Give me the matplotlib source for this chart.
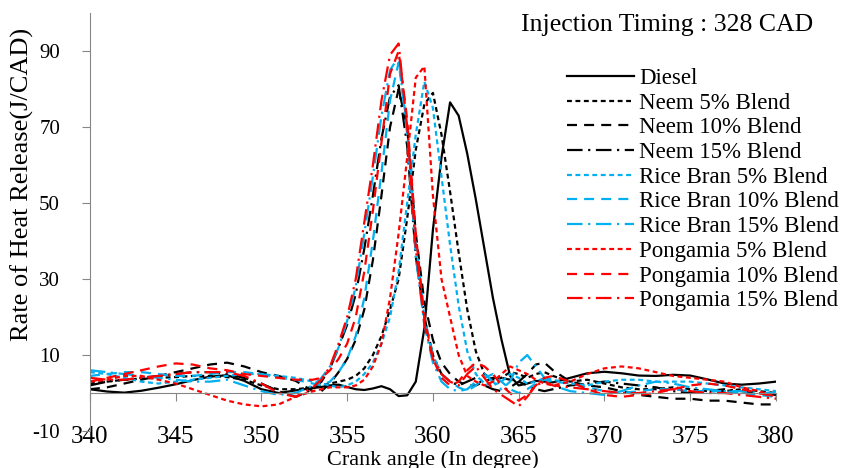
import matplotlib
matplotlib.use('Agg')
import matplotlib.pyplot as plt

plt.rcParams['font.family'] = ['Liberation Serif', 'DejaVu Serif']
plt.rcParams['axes.unicode_minus'] = False

# crank angle grid (deg)
angle = list(range(340, 354)) + [353.5 + 0.5 * i for i in range(28)] + list(range(368, 381))

diesel = [1.0, 0.4, 0.1, 0.6, 1.4, 2.3, 3.4, 4.3, 4.7, 3.2, 1.0, 0.0, 0.7, 1.3,
          1.6, 2.0, 2.2, 1.6, 1.0, 0.8, 1.2, 1.8, 1.0, -0.8, -0.6, 3.0, 17, 43, 62, 76.5, 73,
          63, 51, 38, 25, 14, 4.5, 2.0, 2.5, 3.2, 3.0, 2.8,
          4.0, 5.2, 5.6, 5.2, 4.6, 4.5, 4.8, 4.6, 3.6, 2.5, 2.2, 2.5, 3.0]
neem5 = [2.5, 3.0, 3.5, 3.8, 4.0, 4.2, 4.5, 4.5, 4.2, 3.5, 2.0, 1.0, 1.0, 1.5,
         2.0, 2.5, 3.0, 3.5, 4.5, 6.5, 10, 15, 22, 30, 46, 64, 76, 79, 68, 53, 37,
         22, 11, 5, 3.5, 4, 5.5, 5.0, 4.0, 5.0, 5.5, 4.5,
         3, 3.5, 2.5, 1.5, 1.0, 1.0, 1.5, 1.0, 0.5, 0.5, 1.0, 0.5, 0.0]
neem10 = [1.0, 1.5, 2.5, 3.5, 4.5, 5.5, 6.5, 7.5, 8.0, 7.0, 5.5, 4.5, 3.2, 0.5,
          0.5, 2.5, 5.5, 9, 14, 22, 35, 52, 70, 80, 70, 42, 24, 14, 8, 5, 3,
          2, 2, 3, 4, 4, 3.5, 3, 5, 7.5, 8, 6,
          3, 2, 1.5, 0.5, -0.5, -1, -1.5, -1.5, -2, -2, -2.5, -3, -3]
neem15 = [2.0, 3.0, 3.5, 4.0, 4.5, 5.0, 5.5, 5.5, 5.0, 4.0, 2.5, 0.5, -1.0, 1.0,
          3.0, 6.5, 12, 18, 26, 38, 52, 67, 78, 81, 65, 36, 20, 10, 5, 3, 2,
          3, 4, 2, 1, 0.5, 1.5, 3, 2, 1, 0.5, 1,
          2, 2.5, 3, 2.5, 2, 1.5, 0.5, 0, 0.5, 1, 0.5, 0, -0.5]
rice5 = [5.5, 5.0, 4.0, 3.0, 2.5, 3.0, 3.5, 4.0, 4.5, 5.0, 5.0, 4.5, 4.0, 3.0,
         2.5, 2.0, 1.5, 2.0, 3.0, 5, 8, 13, 20, 32, 50, 68, 82, 75, 57, 39, 23,
         11, 5, 2.5, 2, 3, 5, 4, 2.5, 3, 4, 3.5,
         2.5, 2, 3, 3.5, 3.5, 3, 3, 3, 2.5, 2, 1.5, 1.0, 0.5]
rice10 = [4.5, 5.0, 5.5, 5.5, 5.0, 4.5, 4.5, 5.0, 5.5, 5.5, 5.0, 4.0, 3.5, 2.5,
          2.0, 3, 5.5, 9, 15, 25, 40, 58, 77, 87, 70, 40, 20, 10, 5, 3, 1.5,
          0.5, 2, 4, 5, 3, 1, 0, 1, 2.5, 3.5, 3,
          2.5, 1.5, 0.5, 0.0, 0.5, 1.0, 1.0, 0.5, 0.5, 0.5, 0, -0.5, -1]
rice15 = [6.0, 5.5, 5.0, 4.5, 4.0, 3.5, 3.0, 3.0, 3.5, 2.0, 0.5, -0.5, 0.0, 2.0,
          4, 7, 12, 19, 28, 42, 57, 73, 85, 88.5, 68, 36, 18, 8, 3, 1, 0.5,
          1, 3, 5, 3, 1, 3, 8, 10, 7, 4, 2,
          0.5, 0, -0.5, 0.5, 2, 3, 2.5, 1.5, 1.0, 0.5, 0.5, 0.0, 0]
pong5 = [3.0, 3.5, 4.5, 4.5, 3.5, 2.5, 1.0, -0.5, -2.0, -3.0, -3.5, -3.0, -1.0, 0.5,
         1.0, 1.5, 1.5, 1.5, 2.0, 3.5, 7, 13, 25, 42, 62, 83, 86, 52, 30, 20, 10,
         4.5, 3, 2, 3, 5, 7, 6, 5, 3.5, 2.5, 2,
         3, 5, 6.5, 7, 6.5, 5.5, 4.5, 4.0, 3.5, 3, 1.5, 0.5, -1]
pong10 = [3.0, 4.0, 5.0, 6.0, 7.0, 7.8, 7.5, 6.5, 6.0, 5.0, 4.5, 4.0, 3.5, 3.5,
          4, 6, 9, 13, 20, 32, 48, 66, 84, 90, 72, 42, 20, 9, 4, 2, 3,
          6, 8, 7, 5, 2, 0, -2, -0.5, 2, 4, 4.5,
          3, 1.0, -0.5, -1.0, -0.5, 0.0, 1.0, 2.0, 2.5, 2.0, 1.0, 0.0, -1.0]
pong15 = [4.0, 3.5, 3.5, 4.0, 4.5, 5.0, 5.5, 5.5, 5.5, 4.5, 2.5, 0.0, -1.0, 1.5,
          3.5, 7, 13, 20, 30, 45, 60, 77, 89, 92, 70, 38, 18, 9, 5, 3, 2,
          5, 7, 4, 1, -0.5, -2, -3.5, -1, 2, 3, 2,
          1.5, 1.0, 0.5, 0, 0, 0.5, 1.0, 0.5, 0, 0, -0.5, -1, -1.5]

labels = ['Diesel', 'Neem 5% Blend', 'Neem 10% Blend', 'Neem 15% Blend',
          'Rice Bran 5% Blend', 'Rice Bran 10% Blend', 'Rice Bran 15% Blend',
          'Pongamia 5% Blend', 'Pongamia 10% Blend', 'Pongamia 15% Blend']
series = [diesel, neem5, neem10, neem15, rice5, rice10, rice15, pong5, pong10, pong15]

blue = '#00B0F0'
red = '#FF0000'
colors = ['black', 'black', 'black', 'black', blue, blue, blue, red, red, red]
short = (2.2, 1.6)
long_ = (4.5, 3.2)
dashdot = (7, 2.5, 1, 2.5)
dashes = [None, short, long_, dashdot, short, long_, dashdot, short, long_, dashdot]

fig = plt.figure(figsize=(8.56, 4.68), dpi=100)
ax = fig.add_axes([0.105, 0.079, 0.8015, 0.893])

for vals, lab, c, d in zip(series, labels, colors, dashes):
    ln, = ax.plot(angle, vals, color=c, lw=1.6, label=lab)
    if d is not None:
        ln.set_dashes(d)

ax.set_xlim(340, 380)
ax.set_ylim(-10, 100)
ax.set_xticks(range(340, 381, 5))
ax.set_yticks(range(-10, 91, 20))

for s in ['top', 'right']:
    ax.spines[s].set_visible(False)
ax.spines['bottom'].set_position(('data', 0))
ax.spines['left'].set_color('#868686')
ax.spines['bottom'].set_color('#868686')
ax.tick_params(axis='both', colors='#868686', labelcolor='black', length=5.5, direction='out')
ax.tick_params(axis='x', pad=18, labelsize=18)
ax.tick_params(axis='y', pad=16, labelsize=15)

ax.set_xlabel('Crank angle (In degree)', fontsize=16)
ax.xaxis.set_label_coords(0.5, -0.045)
ax.set_ylabel('Rate of Heat Release(J/CAD)', fontsize=19)
ax.yaxis.set_label_coords(-0.082, 0.59)

fig.text(0.779, 0.947, 'Injection Timing : 328 CAD', fontsize=18.5, ha='center', va='center')

ax.legend(loc='upper left', bbox_to_anchor=(0.662, 0.855), bbox_transform=fig.transFigure,
          frameon=False, fontsize=16.5, handlelength=2.95, handletextpad=0.2,
          labelspacing=0.16, borderpad=0, borderaxespad=0)

fig.savefig('out.png', dpi=100)
